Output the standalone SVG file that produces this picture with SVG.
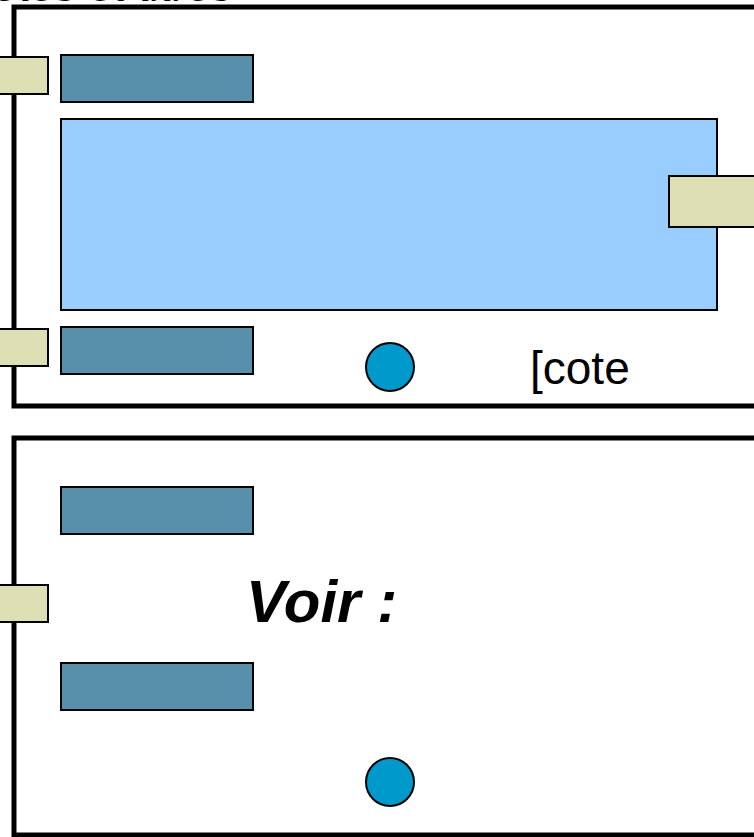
<svg xmlns="http://www.w3.org/2000/svg" width="754" height="837" viewBox="0 0 754 837">
<style>
.frame{fill:#fff;stroke:#000;stroke-width:5}
.port{fill:#dfdfb6;stroke:#000;stroke-width:2}
.bar{fill:#588faa;stroke:#000;stroke-width:2}
.main{fill:#99ccff;stroke:#000;stroke-width:2}
.dot{fill:#0099cc;stroke:#000;stroke-width:2}
.t{font-family:"Liberation Sans",Arial,sans-serif;fill:#000}
</style>
<rect width="754" height="837" fill="#fff"/>
<text class="t" x="232" y="1" font-size="44" text-anchor="end">Cotes et titres</text>
<g id="frame-top">
<rect class="frame" x="14" y="7" width="760" height="399"/>
</g>
<g id="frame-bottom">
<rect class="frame" x="14" y="438" width="760" height="397"/>
</g>
<g id="main-box">
<rect class="main" x="61" y="119" width="656" height="191"/>
</g>
<g id="bar-1"><rect class="bar" x="61" y="55" width="192" height="47"/></g>
<g id="bar-2"><rect class="bar" x="61" y="327" width="192" height="47"/></g>
<g id="bar-3"><rect class="bar" x="61" y="487" width="192" height="47"/></g>
<g id="bar-4"><rect class="bar" x="61" y="663" width="192" height="47"/></g>
<g id="port-1"><rect class="port" x="-5" y="57" width="53" height="37"/></g>
<g id="port-2"><rect class="port" x="-5" y="329" width="53" height="37"/></g>
<g id="port-3"><rect class="port" x="-5" y="585" width="53" height="37"/></g>
<g id="port-4"><rect class="port" x="669" y="176" width="95" height="51"/></g>
<g id="dot-1"><circle class="dot" cx="390" cy="367" r="24"/></g>
<g id="dot-2"><circle class="dot" cx="390" cy="782" r="24"/></g>
<g id="label-cote"><text class="t" x="530" y="384" font-size="46">[cote</text></g>
<g id="label-voir"><text class="t" x="246" y="622" font-size="60" font-weight="bold" font-style="italic">Voir :</text></g>
<g id="connectors"/>
</svg>
